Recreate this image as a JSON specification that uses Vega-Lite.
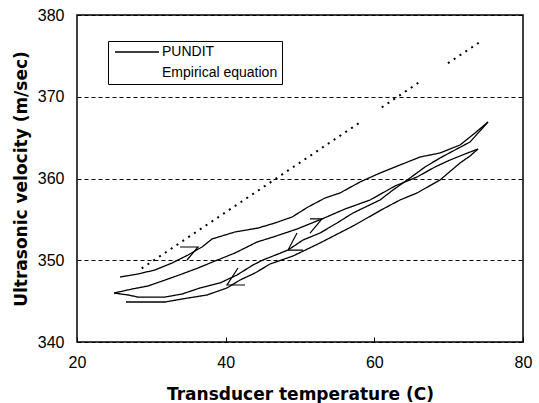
{
  "$schema": "https://vega.github.io/schema/vega-lite/v6.json",
  "width": 446,
  "height": 327,
  "autosize": "none",
  "padding": {"left": 77, "top": 15, "right": 16, "bottom": 61},
  "background": "white",
  "config": {
    "view": {"stroke": "black", "strokeWidth": 1.5},
    "legend": {"strokeWidth": 1}
  },
  "datasets": {
    "pundit": [
      {"seg": "h1", "i": 1, "t": 25.79, "v": 347.95},
      {"seg": "h1", "i": 2, "t": 28.21, "v": 348.32},
      {"seg": "h1", "i": 3, "t": 30.49, "v": 348.81},
      {"seg": "h1", "i": 4, "t": 32.78, "v": 349.66},
      {"seg": "h1", "i": 5, "t": 34.93, "v": 350.64},
      {"seg": "h1", "i": 6, "t": 36.82, "v": 351.62},
      {"seg": "h1", "i": 7, "t": 38.16, "v": 352.6},
      {"seg": "h1", "i": 8, "t": 41.26, "v": 353.46},
      {"seg": "h1", "i": 9, "t": 44.35, "v": 353.94},
      {"seg": "h1", "i": 10, "t": 46.64, "v": 354.56},
      {"seg": "h1", "i": 11, "t": 48.93, "v": 355.29},
      {"seg": "h1", "i": 12, "t": 51.08, "v": 356.51},
      {"seg": "h1", "i": 13, "t": 53.36, "v": 357.61},
      {"seg": "h1", "i": 14, "t": 55.38, "v": 358.23},
      {"seg": "h1", "i": 15, "t": 58.07, "v": 359.57},
      {"seg": "h1", "i": 16, "t": 60.76, "v": 360.67},
      {"seg": "h1", "i": 17, "t": 63.45, "v": 361.65},
      {"seg": "h1", "i": 18, "t": 66.15, "v": 362.63},
      {"seg": "h1", "i": 19, "t": 68.84, "v": 363.12},
      {"seg": "h1", "i": 20, "t": 71.53, "v": 364.1},
      {"seg": "h1", "i": 21, "t": 73.55, "v": 365.57},
      {"seg": "h1", "i": 22, "t": 75.29, "v": 366.91},
      {"seg": "c1", "i": 1, "t": 75.29, "v": 366.91},
      {"seg": "c1", "i": 2, "t": 72.87, "v": 364.46},
      {"seg": "c1", "i": 3, "t": 70.85, "v": 363.49},
      {"seg": "c1", "i": 4, "t": 68.84, "v": 362.51},
      {"seg": "c1", "i": 5, "t": 66.82, "v": 361.41},
      {"seg": "c1", "i": 6, "t": 64.8, "v": 360.06},
      {"seg": "c1", "i": 7, "t": 62.51, "v": 358.59},
      {"seg": "c1", "i": 8, "t": 60.76, "v": 357.37},
      {"seg": "c1", "i": 9, "t": 57.13, "v": 355.78},
      {"seg": "c1", "i": 10, "t": 54.98, "v": 354.56},
      {"seg": "c1", "i": 11, "t": 52.69, "v": 353.33},
      {"seg": "c1", "i": 12, "t": 50.41, "v": 352.48},
      {"seg": "c1", "i": 13, "t": 48.39, "v": 351.25},
      {"seg": "c1", "i": 14, "t": 45.02, "v": 350.03},
      {"seg": "c1", "i": 15, "t": 43.68, "v": 349.42},
      {"seg": "c1", "i": 16, "t": 41.53, "v": 348.2},
      {"seg": "c1", "i": 17, "t": 39.24, "v": 347.22},
      {"seg": "c1", "i": 18, "t": 36.55, "v": 346.61},
      {"seg": "c1", "i": 19, "t": 34.13, "v": 345.87},
      {"seg": "c1", "i": 20, "t": 31.84, "v": 345.5},
      {"seg": "c1", "i": 21, "t": 28.21, "v": 345.5},
      {"seg": "c1", "i": 22, "t": 26.86, "v": 345.75},
      {"seg": "c1", "i": 23, "t": 24.98, "v": 345.99},
      {"seg": "h2", "i": 1, "t": 24.98, "v": 345.99},
      {"seg": "h2", "i": 2, "t": 27.4, "v": 346.48},
      {"seg": "h2", "i": 3, "t": 29.55, "v": 346.85},
      {"seg": "h2", "i": 4, "t": 31.84, "v": 347.58},
      {"seg": "h2", "i": 5, "t": 34.13, "v": 348.32},
      {"seg": "h2", "i": 6, "t": 36.28, "v": 349.05},
      {"seg": "h2", "i": 7, "t": 38.57, "v": 349.91},
      {"seg": "h2", "i": 8, "t": 41.26, "v": 350.89},
      {"seg": "h2", "i": 9, "t": 44.22, "v": 352.23},
      {"seg": "h2", "i": 10, "t": 46.37, "v": 352.84},
      {"seg": "h2", "i": 11, "t": 49.6, "v": 353.82},
      {"seg": "h2", "i": 12, "t": 52.96, "v": 355.05},
      {"seg": "h2", "i": 13, "t": 56.06, "v": 356.27},
      {"seg": "h2", "i": 14, "t": 59.42, "v": 357.37},
      {"seg": "h2", "i": 15, "t": 62.78, "v": 359.08},
      {"seg": "h2", "i": 16, "t": 65.74, "v": 360.18},
      {"seg": "h2", "i": 17, "t": 68.16, "v": 361.41},
      {"seg": "h2", "i": 18, "t": 70.18, "v": 362.26},
      {"seg": "h2", "i": 19, "t": 72.2, "v": 363.0},
      {"seg": "h2", "i": 20, "t": 73.95, "v": 363.61},
      {"seg": "c2", "i": 1, "t": 73.95, "v": 363.61},
      {"seg": "c2", "i": 2, "t": 72.87, "v": 362.75},
      {"seg": "c2", "i": 3, "t": 71.53, "v": 361.9},
      {"seg": "c2", "i": 4, "t": 68.84, "v": 359.82},
      {"seg": "c2", "i": 5, "t": 65.74, "v": 358.23},
      {"seg": "c2", "i": 6, "t": 63.45, "v": 357.37},
      {"seg": "c2", "i": 7, "t": 61.17, "v": 356.27},
      {"seg": "c2", "i": 8, "t": 57.13, "v": 354.19},
      {"seg": "c2", "i": 9, "t": 52.69, "v": 352.11},
      {"seg": "c2", "i": 10, "t": 49.06, "v": 350.52},
      {"seg": "c2", "i": 11, "t": 45.97, "v": 349.54},
      {"seg": "c2", "i": 12, "t": 43.95, "v": 348.44},
      {"seg": "c2", "i": 13, "t": 41.93, "v": 347.58},
      {"seg": "c2", "i": 14, "t": 40.18, "v": 346.61},
      {"seg": "c2", "i": 15, "t": 37.49, "v": 345.75},
      {"seg": "c2", "i": 16, "t": 34.13, "v": 345.26},
      {"seg": "c2", "i": 17, "t": 31.84, "v": 344.89},
      {"seg": "c2", "i": 18, "t": 26.59, "v": 344.89}
    ],
    "empirical": [
      {"seg": "e1", "t": 28.7, "v": 349.0},
      {"seg": "e1", "t": 58.3, "v": 367.0},
      {"seg": "e2", "t": 61.0, "v": 368.7},
      {"seg": "e2", "t": 66.4, "v": 372.0},
      {"seg": "e3", "t": 69.9, "v": 374.1},
      {"seg": "e3", "t": 74.2, "v": 376.7}
    ],
    "arrows": [
      {"seg": "a1", "i": 1, "t": 33.86, "v": 351.62},
      {"seg": "a1", "i": 2, "t": 36.28, "v": 351.62},
      {"seg": "a1", "i": 3, "t": 34.8, "v": 350.03},
      {"seg": "a2", "i": 1, "t": 51.35, "v": 355.05},
      {"seg": "a2", "i": 2, "t": 52.96, "v": 355.05},
      {"seg": "a2", "i": 3, "t": 51.35, "v": 353.33},
      {"seg": "a3", "i": 1, "t": 50.41, "v": 351.25},
      {"seg": "a3", "i": 2, "t": 48.39, "v": 351.25},
      {"seg": "a3", "i": 3, "t": 49.6, "v": 353.33},
      {"seg": "a4", "i": 1, "t": 42.6, "v": 346.97},
      {"seg": "a4", "i": 2, "t": 40.18, "v": 346.97},
      {"seg": "a4", "i": 3, "t": 41.66, "v": 349.05}
    ]
  },
  "layer": [
    {
      "data": {"name": "pundit"},
      "transform": [{"calculate": "'PUNDIT'", "as": "series"}],
      "mark": {"type": "line", "color": "black", "strokeWidth": 1.3},
      "encoding": {
        "x": {
          "field": "t", "type": "quantitative",
          "scale": {"domain": [20, 80], "nice": false, "zero": false},
          "axis": {
            "values": [20, 40, 60, 80],
            "grid": false, "domain": false,
            "ticks": true, "tickSize": -5, "tickColor": "black", "tickWidth": 1,
            "labelFont": "Liberation Sans", "labelFontSize": 16, "labelColor": "black",
            "labelPadding": 17, "labelFlush": false,
            "title": "Transducer temperature (C)",
            "titleFont": "DejaVu Sans", "titleFontSize": 17, "titleFontWeight": "bold",
            "titleColor": "black", "titlePadding": 16
          }
        },
        "y": {
          "field": "v", "type": "quantitative",
          "scale": {"domain": [340, 380], "nice": false, "zero": false},
          "axis": {
            "values": [340, 350, 360, 370, 380],
            "grid": true, "gridColor": "black", "gridDash": [4, 3], "gridWidth": 1, "gridOpacity": 1,
            "domain": false, "ticks": false,
            "labelFont": "Liberation Sans", "labelFontSize": 16, "labelColor": "black",
            "labelPadding": 13, "labelFlush": false,
            "title": "Ultrasonic velocity (m/sec)",
            "titleFont": "DejaVu Sans", "titleFontSize": 17, "titleFontWeight": "bold",
            "titleColor": "black", "titlePadding": 7
          }
        },
        "detail": {"field": "seg"},
        "order": {"field": "i", "type": "quantitative"},
        "strokeDash": {
          "field": "series", "type": "nominal",
          "scale": {"domain": ["PUNDIT", "Empirical equation"], "range": [[1, 0], [0, 1000]]},
          "legend": {
            "title": null, "orient": "none", "legendX": 31, "legendY": 26,
            "strokeColor": "black", "fillColor": "white", "padding": 4,
            "symbolType": "M-0.8,0H8", "symbolSize": 100,
            "symbolStrokeColor": "black", "symbolStrokeWidth": 1.3,
            "labelFont": "Liberation Sans", "labelFontSize": 14, "labelColor": "black",
            "labelOffset": 36, "rowPadding": 7
          }
        }
      }
    },
    {
      "data": {"name": "empirical"},
      "mark": {"type": "line", "color": "black", "strokeWidth": 2, "strokeDash": [2, 5]},
      "encoding": {
        "x": {"field": "t", "type": "quantitative", "scale": {"domain": [20, 80], "nice": false, "zero": false}},
        "y": {"field": "v", "type": "quantitative", "scale": {"domain": [340, 380], "nice": false, "zero": false}},
        "detail": {"field": "seg"}
      }
    },
    {
      "data": {"name": "arrows"},
      "mark": {"type": "line", "color": "black", "strokeWidth": 1.2},
      "encoding": {
        "x": {"field": "t", "type": "quantitative", "scale": {"domain": [20, 80], "nice": false, "zero": false}},
        "y": {"field": "v", "type": "quantitative", "scale": {"domain": [340, 380], "nice": false, "zero": false}},
        "detail": {"field": "seg"},
        "order": {"field": "i", "type": "quantitative"}
      }
    }
  ]
}
